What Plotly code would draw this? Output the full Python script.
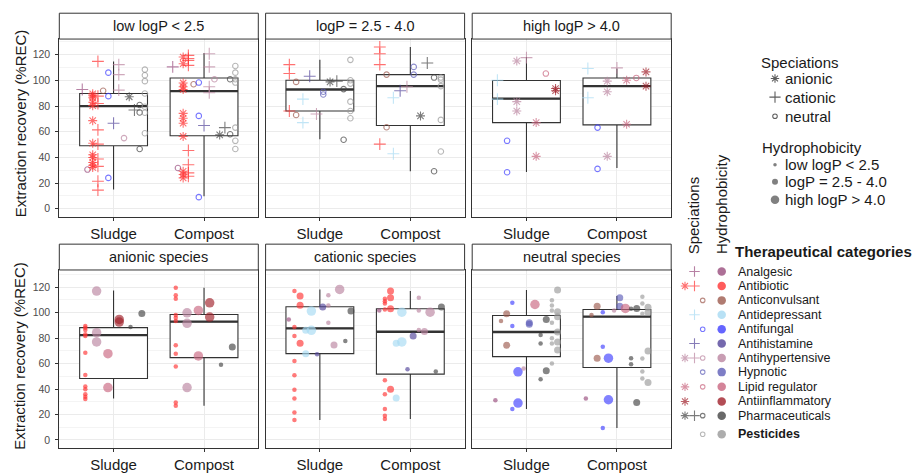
import plotly.graph_objects as go

W, H = 912, 473
FONT = "Liberation Sans, Arial, sans-serif"

# ---------------- data ----------------
matrices = ["Sludge", "Compost"]
categories = ["Analgesic", "Antibiotic", "Anticonvulsant", "Antidepressant", "Antifungal",
              "Antihistamine", "Antihypertensive", "Hypnotic", "Lipid regulator",
              "Antiinflammatory", "Pharmaceuticals", "Pesticides"]
category_colors = ["#984C7D", "#FF3333", "#9C5A4E", "#A6DAF2", "#3F3FFF", "#52449A",
                   "#BA84A0", "#5E5EB8", "#C9657F", "#A0202A", "#444444", "#999999"]
speciations = ["anionic", "cationic", "neutral"]
hydrophobicity = ["low logP < 2.5", "logP = 2.5 - 4.0", "high logP > 4.0"]
bottom_titles = ["anionic species", "cationic species", "neutral species"]

# legend: speciations present per therapeutical category
legend_species = [["cationic"], ["anionic", "cationic"], ["neutral"], ["cationic"], ["neutral"],
                  ["cationic"], ["anionic", "cationic", "neutral"], ["neutral"],
                  ["anionic", "neutral"], ["anionic"], ["anionic", "cationic", "neutral"], ["neutral"]]

# top row (facet = hydrophobicity): (matrix, category, speciation, recoveries %)
top_low = [
    ("Sludge", "Analgesic", "cationic", [92.9]),
    ("Sludge", "Analgesic", "neutral", [30.5]),
    ("Sludge", "Antibiotic", "anionic", [89.5, 88.0, 86.4, 83.0, 80.3, 68.6, 51.0, 42.0, 39.9, 36.0, 33.9, 32.1]),
    ("Sludge", "Antibiotic", "cationic", [114.8, 87.7, 82.0, 61.4, 50.3, 38.7, 33.0, 21.4, 14.5]),
    ("Sludge", "Anticonvulsant", "neutral", [91.9]),
    ("Sludge", "Antifungal", "neutral", [106.0, 87.7, 24.0]),
    ("Sludge", "Antihistamine", "cationic", [66.6]),
    ("Sludge", "Antihypertensive", "cationic", [112.3, 104.5, 92.4]),
    ("Sludge", "Antihypertensive", "neutral", [55.0]),
    ("Sludge", "Pharmaceuticals", "anionic", [87.2]),
    ("Sludge", "Pharmaceuticals", "cationic", [76.9]),
    ("Sludge", "Pharmaceuticals", "neutral", [80.8, 75.0, 46.5]),
    ("Sludge", "Pesticides", "neutral", [108.4, 104.0, 99.4, 89.8, 79.5, 74.8, 58.8]),
    ("Compost", "Analgesic", "cationic", [110.5]),
    ("Compost", "Analgesic", "neutral", [31.7]),
    ("Compost", "Antibiotic", "anionic", [118.2, 113.0, 98.0, 95.0, 92.9, 74.3, 70.5, 66.6, 56.3, 29.2, 26.6, 24.0]),
    ("Compost", "Antibiotic", "cationic", [119.5, 117.0, 115.6, 111.7, 45.4, 34.3, 27.9, 25.3]),
    ("Compost", "Anticonvulsant", "neutral", [97.0]),
    ("Compost", "Antifungal", "neutral", [98.3, 72.3, 9.0]),
    ("Compost", "Antihistamine", "cationic", [64.8]),
    ("Compost", "Antihypertensive", "cationic", [120.8, 110.5, 95.0, 90.3]),
    ("Compost", "Antihypertensive", "neutral", [100.9]),
    ("Compost", "Pharmaceuticals", "anionic", [57.5]),
    ("Compost", "Pharmaceuticals", "cationic", [63.2]),
    ("Compost", "Pharmaceuticals", "neutral", [100.9, 58.0]),
    ("Compost", "Pesticides", "neutral", [111.2, 106.0, 100.9, 98.3, 63.2, 52.9, 46.5]),
]
top_mid = [
    ("Sludge", "Antibiotic", "cationic", [112.3, 105.3, 76.1]),
    ("Sludge", "Anticonvulsant", "neutral", [98.8, 73.0]),
    ("Sludge", "Antidepressant", "cationic", [85.4, 67.1]),
    ("Sludge", "Antihistamine", "cationic", [103.2]),
    ("Sludge", "Antihypertensive", "cationic", [73.8]),
    ("Sludge", "Hypnotic", "neutral", [91.1, 89.0]),
    ("Sludge", "Pharmaceuticals", "anionic", [98.8]),
    ("Sludge", "Pharmaceuticals", "cationic", [99.4]),
    ("Sludge", "Pharmaceuticals", "neutral", [93.2, 53.7]),
    ("Sludge", "Pesticides", "neutral", [116.0, 100.1, 97.5, 83.4, 76.1, 70.5]),
    ("Compost", "Antibiotic", "cationic", [126.0, 120.8, 112.3, 50.3]),
    ("Compost", "Anticonvulsant", "neutral", [104.5, 63.5]),
    ("Compost", "Antidepressant", "cationic", [86.5, 42.8]),
    ("Compost", "Antihistamine", "cationic", [91.9]),
    ("Compost", "Antihypertensive", "cationic", [95.0]),
    ("Compost", "Hypnotic", "neutral", [110.5, 104.5]),
    ("Compost", "Pharmaceuticals", "anionic", [72.3]),
    ("Compost", "Pharmaceuticals", "cationic", [113.5]),
    ("Compost", "Pharmaceuticals", "neutral", [102.2, 29.2]),
    ("Compost", "Pesticides", "neutral", [102.2, 100.6, 95.5, 69.2, 44.6]),
]
top_high = [
    ("Sludge", "Antidepressant", "cationic", [100.1, 85.4]),
    ("Sludge", "Antifungal", "neutral", [52.9, 28.4]),
    ("Sludge", "Antihypertensive", "anionic", [115.1, 83.4, 76.1]),
    ("Sludge", "Antihypertensive", "cationic", [117.7]),
    ("Sludge", "Lipid regulator", "anionic", [67.1, 40.8]),
    ("Sludge", "Lipid regulator", "neutral", [105.3]),
    ("Sludge", "Antiinflammatory", "anionic", [93.7, 91.9]),
    ("Compost", "Antidepressant", "cationic", [109.2, 86.5]),
    ("Compost", "Antifungal", "neutral", [63.2, 31.0]),
    ("Compost", "Antihypertensive", "anionic", [99.4, 91.1, 40.8]),
    ("Compost", "Antihypertensive", "cationic", [109.7]),
    ("Compost", "Lipid regulator", "anionic", [100.1, 65.8]),
    ("Compost", "Lipid regulator", "neutral", [101.9]),
    ("Compost", "Antiinflammatory", "anionic", [106.6, 95.5]),
]

# bottom row (facet = speciation): (matrix, category, hydrophobicity index 0/1/2, recoveries %)
bottom_anionic = [
    ("Sludge", "Antibiotic", 0, [89.5, 88.2, 86.4, 83.0, 81.7, 68.6, 51.1, 42.0, 39.9, 36.0, 33.9, 32.1]),
    ("Sludge", "Antihypertensive", 2, [116.9, 84.3, 77.0]),
    ("Sludge", "Lipid regulator", 2, [67.8, 41.2]),
    ("Sludge", "Antiinflammatory", 2, [94.7, 92.6]),
    ("Sludge", "Pharmaceuticals", 0, [88.7]),
    ("Sludge", "Pharmaceuticals", 1, [99.4]),
    ("Compost", "Antibiotic", 0, [119.5, 113.7, 110.9, 98.1, 96.0, 93.4, 74.4, 67.8, 57.7, 29.5, 26.9]),
    ("Compost", "Antihypertensive", 2, [99.9, 91.6, 41.2]),
    ("Compost", "Lipid regulator", 2, [101.7, 66.0]),
    ("Compost", "Antiinflammatory", 2, [107.7, 96.5]),
    ("Compost", "Pharmaceuticals", 0, [59.0]),
    ("Compost", "Pharmaceuticals", 1, [73.0]),
]
bottom_cationic = [
    ("Sludge", "Analgesic", 0, [94.7]),
    ("Sludge", "Antibiotic", 0, [116.9, 88.7, 81.7, 62.1, 50.9, 39.4, 32.6, 21.6, 15.7]),
    ("Sludge", "Antibiotic", 1, [113.0, 105.9, 75.9]),
    ("Sludge", "Antidepressant", 1, [86.1, 67.8]),
    ("Sludge", "Antidepressant", 2, [101.2, 86.1]),
    ("Sludge", "Antihistamine", 0, [67.3]),
    ("Sludge", "Antihistamine", 1, [104.4]),
    ("Sludge", "Antihypertensive", 0, [113.7, 105.7, 92.1]),
    ("Sludge", "Antihypertensive", 1, [74.6]),
    ("Sludge", "Antihypertensive", 2, [118.2]),
    ("Sludge", "Pharmaceuticals", 0, [77.7]),
    ("Sludge", "Pharmaceuticals", 1, [101.2]),
    ("Compost", "Analgesic", 0, [101.7]),
    ("Compost", "Antibiotic", 0, [110.9, 109.0, 107.2, 102.5, 47.0, 36.0, 24.3, 19.0, 16.4]),
    ("Compost", "Antibiotic", 1, [116.9, 111.7, 103.0, 39.9]),
    ("Compost", "Antidepressant", 1, [75.9, 32.9]),
    ("Compost", "Antidepressant", 2, [100.4, 77.0]),
    ("Compost", "Antihistamine", 0, [55.6]),
    ("Compost", "Antihistamine", 1, [81.7]),
    ("Compost", "Antihypertensive", 0, [111.7, 101.7, 86.4]),
    ("Compost", "Antihypertensive", 1, [85.1]),
    ("Compost", "Antihypertensive", 2, [100.4]),
    ("Compost", "Pharmaceuticals", 0, [53.7]),
    ("Compost", "Pharmaceuticals", 1, [104.4]),
]
bottom_neutral = [
    ("Sludge", "Analgesic", 0, [31.3]),
    ("Sludge", "Anticonvulsant", 0, [93.4]),
    ("Sludge", "Anticonvulsant", 1, [99.1, 74.4]),
    ("Sludge", "Antifungal", 0, [107.7, 89.5, 24.3]),
    ("Sludge", "Antifungal", 2, [53.5, 29.0]),
    ("Sludge", "Antihypertensive", 0, [56.1]),
    ("Sludge", "Hypnotic", 1, [92.1, 90.8]),
    ("Sludge", "Lipid regulator", 2, [106.4]),
    ("Sludge", "Pharmaceuticals", 0, [82.4, 75.7, 47.7]),
    ("Sludge", "Pharmaceuticals", 1, [94.7, 54.3]),
    ("Sludge", "Pesticides", 0, [109.8, 105.7, 101.7, 92.1, 79.8, 75.7, 60.0]),
    ("Sludge", "Pesticides", 1, [117.7, 100.7, 96.8, 84.8, 77.0, 70.7]),
    ("Compost", "Analgesic", 0, [32.6]),
    ("Compost", "Anticonvulsant", 0, [98.1]),
    ("Compost", "Anticonvulsant", 1, [105.1, 64.2]),
    ("Compost", "Antifungal", 0, [100.4, 73.3, 9.4]),
    ("Compost", "Antifungal", 2, [64.2, 31.6]),
    ("Compost", "Antihypertensive", 0, [101.7]),
    ("Compost", "Hypnotic", 1, [111.7, 105.1]),
    ("Compost", "Lipid regulator", 2, [103.3]),
    ("Compost", "Pharmaceuticals", 0, [103.0, 64.2, 59.5]),
    ("Compost", "Pharmaceuticals", 1, [103.3, 29.5]),
    ("Compost", "Pesticides", 0, [112.4, 107.2, 99.1, 63.9, 53.7, 48.3]),
    ("Compost", "Pesticides", 1, [104.3, 100.4, 69.9, 45.1]),
]

# box statistics per matrix [Sludge, Compost]: (lower whisker, q1, median, q3, upper whisker)
box_top_low = [(15.0, 49.0, 80.0, 89.8, 114.8), (9.8, 56.8, 91.6, 101.9, 121.3)]
box_top_mid = [(54.2, 76.1, 92.9, 100.1, 116.0), (29.2, 64.8, 95.5, 104.5, 126.0)]
box_top_high = [(28.6, 67.1, 85.7, 99.9, 118.2), (31.7, 65.3, 95.5, 101.9, 109.2)]
box_bottom_anionic = [(32.6, 48.3, 82.4, 88.2, 117.4), (26.9, 64.7, 92.9, 98.6, 119.5)]
box_bottom_cationic = [(15.7, 67.8, 87.7, 104.6, 118.2), (16.4, 51.7, 85.0, 103.0, 116.9)]
box_bottom_neutral = [(24.3, 65.5, 84.8, 97.8, 117.7), (9.4, 56.9, 96.8, 102.5, 113.0)]

y_ticks = [0, 20, 40, 60, 80, 100, 120]

# ---------------- layout geometry (pixels) ----------------
col_px = [(59.3, 258.3), (265.6, 464.6), (472.2, 671.2)]
row_px = [(39.3, 218.3), (271.7, 451.0)]
strip_px = [(13.3, 39.3), (245.7, 271.7)]
y_ranges = [[-6.4, 132.2], [-6.4, 133.5]]
BOX_W = 0.75


def fx(px):
    return px / W


def fy(py):
    return 1 - py / H


spec_symbol = {"anionic": "asterisk-open", "cationic": "cross-thin-open", "neutral": "circle-open"}
spec_size = {"anionic": 7.5, "cationic": 8.5, "neutral": 5.5}
hyd_size = [4.5, 7, 9.5]

fig = go.Figure()
layout = dict(width=W, height=H, margin=dict(l=0, r=0, t=0, b=0), plot_bgcolor="rgba(0,0,0,0)",
              paper_bgcolor="white", showlegend=False, font=dict(family=FONT, color="#1A1A1A"))
shapes, annotations = [], []

panels = [
    (0, 0, hydrophobicity[0], top_low, box_top_low, "top"),
    (0, 1, hydrophobicity[1], top_mid, box_top_mid, "top"),
    (0, 2, hydrophobicity[2], top_high, box_top_high, "top"),
    (1, 0, bottom_titles[0], bottom_anionic, box_bottom_anionic, "bottom"),
    (1, 1, bottom_titles[1], bottom_cationic, box_bottom_cationic, "bottom"),
    (1, 2, bottom_titles[2], bottom_neutral, box_bottom_neutral, "bottom"),
]

for k, (r, c, title, groups, boxes, kind) in enumerate(panels):
    xa = "x" if k == 0 else f"x{k + 1}"
    ya = "y" if k == 0 else f"y{k + 1}"
    xl = "xaxis" if k == 0 else f"xaxis{k + 1}"
    yl = "yaxis" if k == 0 else f"yaxis{k + 1}"
    x0, x1 = col_px[c]
    yt, yb = row_px[r]
    layout[xl] = dict(domain=[fx(x0), fx(x1)], range=[0.4, 2.6], anchor=ya,
                      tickvals=[1, 2], ticktext=matrices, ticks="outside", ticklen=3,
                      tickcolor="#333333", tickwidth=1,
                      tickfont=dict(size=15, color="#1A1A1A", family=FONT),
                      showgrid=True, gridcolor="#EBEBEB", gridwidth=1, zeroline=False,
                      showline=True, linecolor="#333333", linewidth=1, mirror=True, fixedrange=True)
    layout[yl] = dict(domain=[fy(yb), fy(yt)], range=y_ranges[r], anchor=xa,
                      tickvals=y_ticks, showticklabels=(c == 0),
                      ticks="outside" if c == 0 else "", ticklen=3, tickcolor="#333333",
                      tickwidth=1, ticklabelstandoff=3,
                      tickfont=dict(size=10.5, color="#4D4D4D", family=FONT),
                      showgrid=True, gridcolor="#EBEBEB", gridwidth=1, zeroline=False,
                      minor=dict(tickvals=[10, 30, 50, 70, 90, 110, 130], showgrid=True,
                                 gridcolor="#EDEDED", gridwidth=0.6),
                      showline=True, linecolor="#333333", linewidth=1, mirror=True, fixedrange=True)
    # strip
    st, sb = strip_px[r]
    shapes.append(dict(type="rect", xref="paper", yref="paper", x0=fx(x0), x1=fx(x1),
                       y0=fy(sb), y1=fy(st), fillcolor="white",
                       line=dict(color="#333333", width=1), layer="above"))
    annotations.append(dict(xref="paper", yref="paper", x=fx((x0 + x1) / 2), y=fy((st + sb) / 2),
                            text=title, showarrow=False, xanchor="center", yanchor="middle",
                            font=dict(size=14.5, color="#1A1A1A", family=FONT)))
    # boxes
    for m, (lo, q1, med, q3, hi) in enumerate(boxes):
        pos = m + 1
        fig.add_trace(go.Box(x=[pos], q1=[q1], median=[med], q3=[q3], lowerfence=[lo],
                             upperfence=[hi], width=BOX_W, whiskerwidth=0, fillcolor="white",
                             line=dict(color="#333333", width=1.1), boxpoints=False,
                             hoverinfo="skip", xaxis=xa, yaxis=ya))
        fig.add_trace(go.Scatter(x=[pos - BOX_W / 2, pos + BOX_W / 2], y=[med, med], mode="lines",
                                 line=dict(color="#333333", width=2.3), hoverinfo="skip",
                                 xaxis=xa, yaxis=ya))
    # points, dodged by group within each matrix
    xs, ys, cols, syms, sizes = [], [], [], [], []
    for m, mat in enumerate(matrices):
        sub = [g for g in groups if g[0] == mat]
        if kind == "top":
            keys = sorted({(categories.index(g[1]), speciations.index(g[2])) for g in sub})
        else:
            keys = sorted({(categories.index(g[1]), g[2]) for g in sub})
        n = len(keys)
        slot = BOX_W / n
        for g in sub:
            ci = categories.index(g[1])
            key = (ci, speciations.index(g[2])) if kind == "top" else (ci, g[2])
            off = -BOX_W / 2 + slot * (keys.index(key) + 0.5)
            for v in g[3]:
                xs.append(m + 1 + off)
                ys.append(v)
                cols.append(category_colors[ci])
                if kind == "top":
                    syms.append(spec_symbol[g[2]])
                    sizes.append(spec_size[g[2]])
                else:
                    syms.append("circle")
                    sizes.append(hyd_size[g[2]])
    if kind == "top":
        fig.add_trace(go.Scatter(x=xs, y=ys, mode="markers", hoverinfo="skip", xaxis=xa, yaxis=ya,
                                 marker=dict(symbol=syms, size=sizes, color=cols,
                                             line=dict(width=1.1, color=cols))))
    else:
        fig.add_trace(go.Scatter(x=xs, y=ys, mode="markers", hoverinfo="skip", xaxis=xa, yaxis=ya,
                                 marker=dict(symbol=syms, size=sizes, color=cols, opacity=0.65,
                                             line=dict(width=0))))

# y axis titles
for r, yc in enumerate([124.0, 358.0]):
    annotations.append(dict(xref="paper", yref="paper", x=fx(20), y=fy(yc),
                            text="Extraction recovery (%REC)", textangle=-90, showarrow=False,
                            xanchor="center", yanchor="middle",
                            font=dict(size=15, color="#1A1A1A", family=FONT)))

# ---------------- legends (drawn on a pixel-space overlay axis) ----------------
layout["xaxis7"] = dict(domain=[fx(676), 1], range=[676, W], visible=False, fixedrange=True,
                        anchor="y7", showgrid=False)
layout["yaxis7"] = dict(domain=[0, 1], range=[H, 0], visible=False, fixedrange=True,
                        anchor="x7", showgrid=False)


def add_text(px, py, text, size=15, bold=False, anchor="left"):
    annotations.append(dict(xref="paper", yref="paper", x=fx(px), y=fy(py),
                            text=f"<b>{text}</b>" if bold else text, showarrow=False,
                            xanchor=anchor, yanchor="middle",
                            font=dict(size=size, color="#1A1A1A", family=FONT)))


# Speciations legend
add_text(759, 62.7, "Speciations")
spec_rows = [79.0, 97.7, 117.0]
fig.add_trace(go.Scatter(x=[775] * 3, y=spec_rows, mode="markers", hoverinfo="skip",
                         xaxis="x7", yaxis="y7", cliponaxis=False,
                         marker=dict(symbol=[spec_symbol[s] for s in speciations],
                                     size=[7, 8, 4.5], color="#1A1A1A",
                                     line=dict(width=1.1, color="#1A1A1A"))))
for s, yy in zip(speciations, spec_rows):
    add_text(783, yy, s)

# Hydrophobicity legend
add_text(759.5, 148.3, "Hydrophobicity")
hyd_rows = [165.7, 182.8, 201.0]
fig.add_trace(go.Scatter(x=[775] * 3, y=hyd_rows, mode="markers", hoverinfo="skip",
                         xaxis="x7", yaxis="y7", cliponaxis=False,
                         marker=dict(symbol="circle", size=[3.5, 6, 8.5], color="#555555",
                                     opacity=0.75, line=dict(width=0))))
for h, yy in zip(hydrophobicity, hyd_rows):
    add_text(783, yy, h)

# Therapeutical categories legend
for txt, xx in [("Speciations", 693), ("Hydrophobicity", 721.7)]:
    annotations.append(dict(xref="paper", yref="paper", x=fx(xx), y=fy(258), text=txt,
                            textangle=-90, showarrow=False, xanchor="center", yanchor="bottom",
                            font=dict(size=15, color="#1A1A1A", family=FONT)))
add_text(733, 253, "Therapeutical categories", bold=True)
cat_rows = [273.3, 287.8, 302.3, 316.7, 331.3, 345.7, 360.3, 374.5, 389.3, 404.0, 418.3, 437.0]
spec_col_x = {"anionic": 685, "cationic": 694.5, "neutral": 702.7}
lx, ly, lc, ls, lsz = [], [], [], [], []
for ci, (cat, yy) in enumerate(zip(categories, cat_rows)):
    for s in legend_species[ci]:
        lx.append(spec_col_x[s])
        ly.append(yy)
        lc.append(category_colors[ci])
        ls.append(spec_symbol[s])
        lsz.append({"anionic": 7, "cationic": 7.5, "neutral": 4.5}[s])
    add_text(736, yy, cat, size=12.5, bold=(cat == "Pesticides"))
fig.add_trace(go.Scatter(x=lx, y=ly, mode="markers", hoverinfo="skip", xaxis="x7", yaxis="y7",
                         cliponaxis=False,
                         marker=dict(symbol=ls, size=lsz, color=lc, line=dict(width=1.1, color=lc))))
fig.add_trace(go.Scatter(x=[721.7] * len(categories), y=cat_rows, mode="markers", hoverinfo="skip",
                         xaxis="x7", yaxis="y7", cliponaxis=False,
                         marker=dict(symbol="circle", size=8.5, color=category_colors,
                                     opacity=0.8, line=dict(width=0))))

layout["shapes"] = shapes
layout["annotations"] = annotations
fig.update_layout(**layout)

fig.write_html("out.html", config={"displayModeBar": False, "staticPlot": True},
               post_script="document.body.style.margin='0';document.body.style.overflow='hidden';")
